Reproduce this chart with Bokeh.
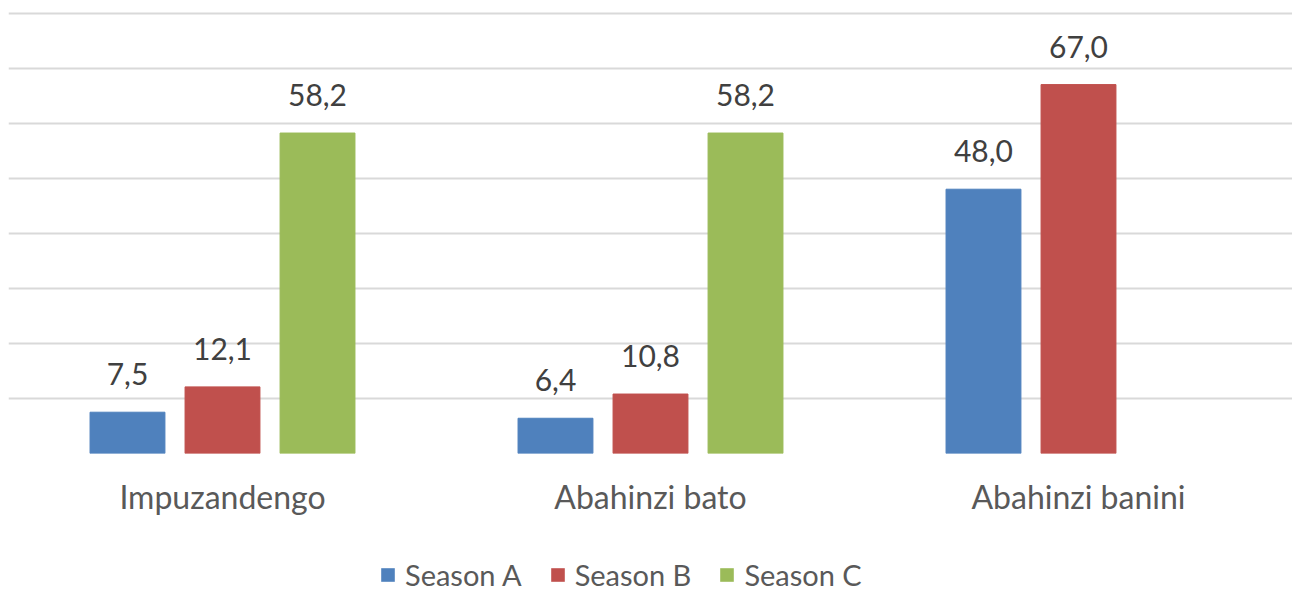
from bokeh.plotting import figure
from bokeh.layouts import column
from bokeh.models import (ColumnDataSource, FactorRange, FixedTicker, Legend, LegendItem,
                          LabelSet)
from bokeh.core.properties import value
from bokeh.transform import dodge
from bokeh.embed import file_html
from bokeh.resources import INLINE

categories = ["Impuzandengo", "Abahinzi bato", "Abahinzi banini"]
series_names = ["Season A", "Season B", "Season C"]
season_a = [7.5, 6.4, 48.0]
season_b = [12.1, 10.8, 67.0]
season_c = [58.2, 58.2, None]
colors = ["#4F81BD", "#C0504D", "#9BBB59"]
y_ticks = [0, 10, 20, 30, 40, 50, 60, 70, 80]

FONT = "Lato"

p = figure(x_range=FactorRange(*categories, range_padding=0), y_range=(0, 81),
           width=1292, height=528, output_backend="svg", toolbar_location=None,
           min_border_left=8, min_border_right=0, min_border_top=7, min_border_bottom=75)
p.outline_line_color = None
p.background_fill_color = "white"
p.border_fill_color = "white"

# legend strip below the chart (its bar renderers are hidden, used only for legend swatches)
lf = figure(x_range=FactorRange(*categories, range_padding=0), y_range=(-1000, -999),
            width=1292, height=64, output_backend="svg", toolbar_location=None,
            x_axis_location=None, y_axis_location=None,
            min_border_left=0, min_border_right=0, min_border_top=0, min_border_bottom=0)
lf.outline_line_color = None
lf.grid.visible = False

offsets = [-0.222, 0.0, 0.222]
items = []
for name, vals, col, off in zip(series_names, [season_a, season_b, season_c], colors, offsets):
    cats = [c for c, v in zip(categories, vals) if v is not None]
    vs = [v for v in vals if v is not None]
    src = ColumnDataSource(dict(cat=cats, val=vs,
                                lbl=[f"{v:.1f}".replace(".", ",") for v in vs]))
    p.vbar(x=dodge("cat", off, range=p.x_range), top="val", width=0.175, source=src,
           fill_color=col, line_color=col, line_width=1)
    labels = LabelSet(x=dodge("cat", off, range=p.x_range), y="val", text="lbl", source=src,
                      text_align="center", text_baseline="alphabetic", y_offset=27,
                      text_font=value(FONT), text_font_size="30px", text_color="#404040")
    p.add_layout(labels)
    r = lf.vbar(x=dodge("cat", off, range=lf.x_range), top="val", width=0.175, source=src,
                fill_color=col, line_color=None, visible=False)
    items.append(LegendItem(label=name, renderers=[r]))

p.yaxis.visible = False
p.ygrid.ticker = FixedTicker(ticks=y_ticks)
p.ygrid.grid_line_color = "#D9D9D9"
p.ygrid.grid_line_width = 2
p.xgrid.grid_line_color = None

p.xaxis.axis_line_color = None
p.xaxis.major_tick_line_color = None
p.xaxis.minor_tick_line_color = None
p.xaxis.major_label_text_font = FONT
p.xaxis.major_label_text_font_size = "32px"
p.xaxis.major_label_text_color = "#595959"
p.xaxis.major_label_standoff = 17

legend = Legend(items=items, orientation="horizontal", location=(371, 0),
                glyph_width=17, glyph_height=17, label_standoff=9, spacing=27,
                padding=0, margin=0, border_line_color=None, background_fill_alpha=0,
                inactive_fill_alpha=0,
                label_text_font=FONT, label_text_font_size="29px",
                label_text_color="#595959", label_height=17)
lf.add_layout(legend, "center")

layout = column(p, lf, spacing=0)
open("out.html", "w").write(file_html(layout, INLINE))
